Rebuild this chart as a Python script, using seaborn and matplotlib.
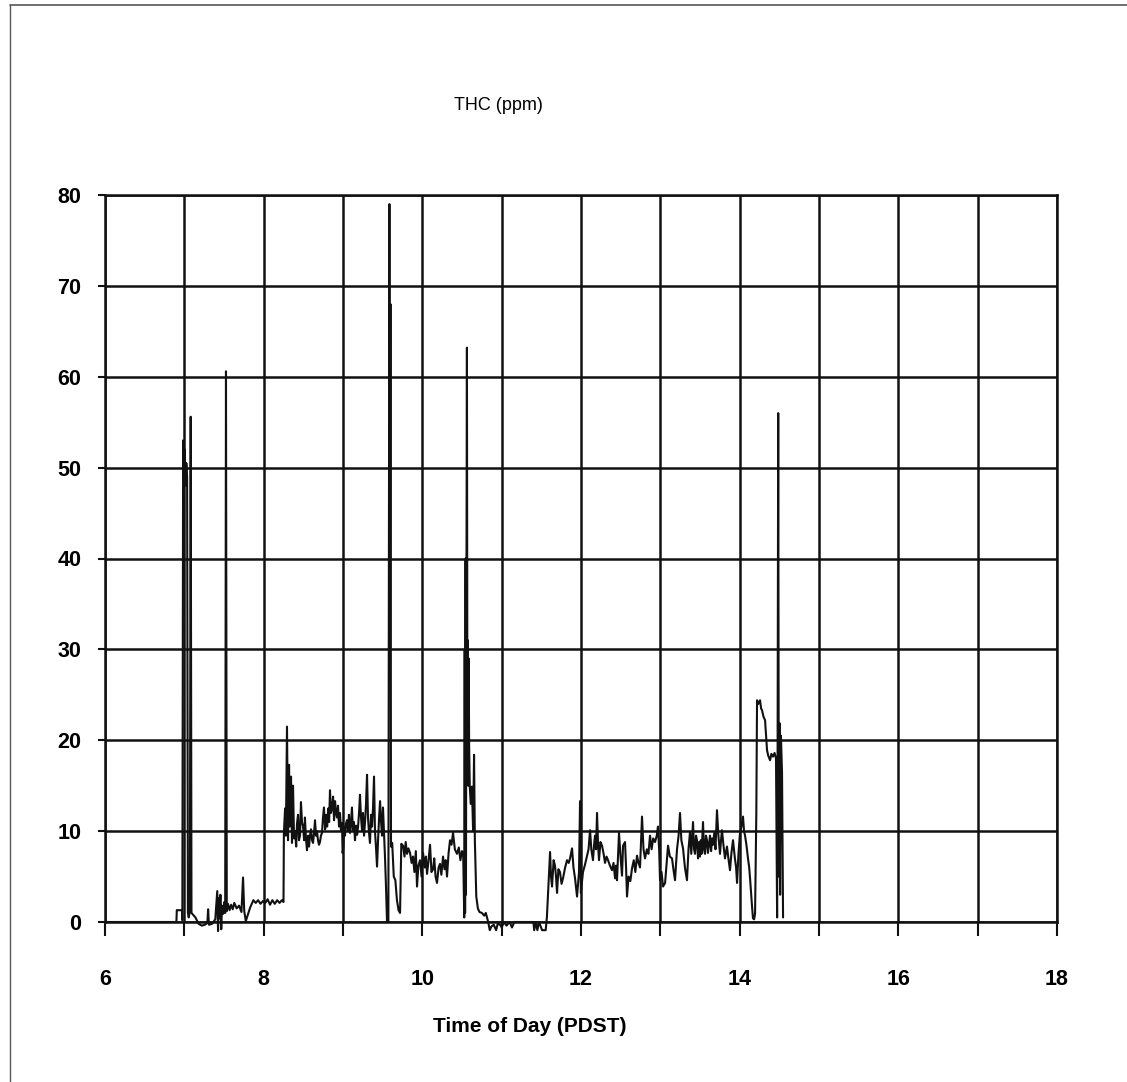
import matplotlib
matplotlib.use("Agg")
import matplotlib.pyplot as plt
from matplotlib.lines import Line2D
import numpy as np
import pandas as pd
import seaborn as sns

# THC readings (ppm) against time of day (decimal hours, PDST)
early_morning = [
    (6.00, 0), (6.90, 0), (6.905, 1.3), (6.97, 1.3), (6.975, 0.2),
    (6.985, 53), (6.995, 48.5), (7.005, 52), (7.015, 48), (7.025, 50.5),
    (7.035, 49), (7.045, 1.0), (7.055, 0.5), (7.07, 1.2), (7.08, 55.6),
    (7.09, 1.0), (7.11, 0.8), (7.14, 0.5), (7.18, -0.2), (7.22, -0.4),
    (7.26, -0.3), (7.29, -0.1), (7.30, 1.4), (7.31, -0.3), (7.35, -0.2),
    (7.39, 0.3), (7.415, 3.4), (7.425, -1.0), (7.435, 2.6), (7.445, 0.4),
    (7.455, 3.0), (7.465, -0.8), (7.475, 1.8), (7.49, 0.9), (7.505, 2.2),
    (7.515, 1.0), (7.525, 60.6), (7.535, 1.2), (7.55, 2.0), (7.57, 1.3),
    (7.59, 1.9), (7.61, 1.4), (7.63, 2.1), (7.66, 1.5), (7.69, 1.8),
    (7.72, 1.1), (7.74, 4.9), (7.755, 1.2), (7.775, 0.1), (7.80, 0.8),
    (7.83, 1.6), (7.87, 2.4), (7.90, 2.1), (7.93, 2.4), (7.96, 2.0),
    (7.99, 2.3), (8.02, 2.1), (8.05, 2.5), (8.08, 1.9), (8.11, 2.4),
    (8.14, 2.0), (8.17, 2.4), (8.20, 2.1), (8.23, 2.4), (8.25, 2.2),
]

mid_morning = [
    (8.255, 9.8), (8.27, 12.5), (8.28, 9.5), (8.294, 21.5), (8.307, 9.0),
    (8.32, 17.3), (8.33, 10.5), (8.345, 16.0), (8.357, 8.7), (8.37, 15.0),
    (8.383, 9.2), (8.395, 10.0), (8.41, 8.3), (8.42, 10.8), (8.433, 11.8),
    (8.445, 9.0), (8.458, 9.5), (8.47, 13.2), (8.483, 11.0), (8.496, 10.5),
    (8.51, 9.0), (8.52, 11.5), (8.533, 9.2), (8.546, 7.9), (8.56, 9.5),
    (8.572, 8.3), (8.584, 9.5), (8.597, 10.2), (8.61, 9.0), (8.622, 8.7),
    (8.635, 9.8), (8.647, 11.2), (8.66, 9.5), (8.672, 10.0), (8.685, 9.0),
    (8.697, 8.5), (8.71, 8.8), (8.722, 9.5), (8.735, 9.8), (8.748, 11.5),
    (8.76, 12.6), (8.775, 10.2), (8.788, 11.8), (8.80, 10.5), (8.815, 12.5),
    (8.825, 11.0), (8.836, 14.5), (8.848, 12.0), (8.861, 12.5), (8.875, 13.8),
    (8.887, 11.2), (8.90, 13.3), (8.912, 12.0), (8.924, 11.5), (8.937, 12.8),
    (8.95, 10.5), (8.962, 12.0), (8.975, 10.0), (8.987, 10.9), (8.995, 7.6),
    (9.005, 8.2), (9.015, 10.5), (9.025, 9.5), (9.037, 10.8), (9.05, 11.2),
    (9.063, 10.0), (9.075, 11.8), (9.088, 9.8), (9.10, 10.8), (9.113, 12.6),
    (9.125, 10.0), (9.138, 11.0), (9.151, 9.0), (9.165, 10.6), (9.178, 9.6),
    (9.19, 10.5), (9.202, 12.0), (9.214, 14.0), (9.227, 11.5), (9.24, 10.1),
    (9.252, 12.0), (9.265, 9.5), (9.278, 11.0), (9.29, 13.0), (9.303, 16.2),
    (9.315, 11.5), (9.328, 9.8), (9.34, 8.7), (9.353, 11.8), (9.366, 10.5),
    (9.378, 12.5), (9.391, 16.0), (9.403, 10.0), (9.416, 8.2), (9.429, 6.1),
    (9.442, 9.0), (9.455, 11.5), (9.467, 13.3), (9.48, 11.0), (9.492, 9.5),
    (9.504, 12.6), (9.517, 9.8), (9.53, 7.0), (9.542, 3.9), (9.555, 0.0),
]

late_morning = [
    (9.572, 0.0), (9.585, 79.0), (9.592, 27.0), (9.598, 68.0), (9.605, 8.3),
    (9.62, 8.7), (9.64, 5.0), (9.66, 4.6), (9.68, 2.4), (9.70, 1.3),
    (9.719, 1.0), (9.735, 8.6), (9.757, 8.4), (9.775, 7.2), (9.79, 8.8),
    (9.807, 7.5), (9.825, 8.1), (9.845, 7.6), (9.865, 6.5), (9.883, 7.2),
    (9.90, 5.5), (9.918, 7.8), (9.933, 3.9), (9.95, 6.2), (9.971, 6.8),
    (9.99, 5.0), (10.009, 7.6), (10.03, 6.0), (10.045, 7.2), (10.059, 5.3),
    (10.075, 6.5), (10.097, 8.5), (10.115, 5.5), (10.135, 5.8), (10.15, 7.0),
    (10.167, 5.0), (10.185, 4.3), (10.205, 6.0), (10.223, 6.4), (10.24, 5.2),
    (10.261, 7.2), (10.28, 5.8), (10.295, 6.8), (10.311, 5.0), (10.33, 7.5),
    (10.349, 9.0), (10.368, 8.5), (10.387, 9.8), (10.41, 8.0), (10.437, 7.5),
    (10.46, 8.2), (10.48, 6.8), (10.50, 7.8), (10.515, 7.5),
]

burst = [
    (10.528, 0.5), (10.534, 30.0), (10.539, 1.0), (10.545, 40.0), (10.55, 3.0),
    (10.555, 33.0), (10.562, 63.2), (10.568, 22.0), (10.573, 31.0),
    (10.578, 15.0), (10.584, 29.0), (10.59, 19.5), (10.598, 14.9),
    (10.61, 13.0), (10.625, 14.9), (10.64, 10.0), (10.652, 18.4),
    (10.662, 9.0), (10.68, 2.8), (10.70, 1.5), (10.72, 1.1), (10.75, 1.0),
    (10.78, 0.7), (10.80, 1.0), (10.83, 0.0), (10.85, -0.9), (10.87, -0.5),
    (10.90, -0.3), (10.93, -0.9), (10.95, -0.2), (10.98, -0.3), (11.00, -0.6),
    (11.03, 0.0), (11.06, -0.4), (11.10, 0.0), (11.13, -0.6), (11.16, 0.0),
    (11.40, 0.0), (11.41, -0.9), (11.43, 0.0), (11.45, -0.9), (11.47, 0.0),
    (11.51, -0.9), (11.555, -0.9), (11.57, 0.5),
]

midday = [
    (11.584, 3.0), (11.61, 7.7), (11.622, 5.0), (11.635, 3.9), (11.655, 6.8),
    (11.672, 6.2), (11.685, 5.0), (11.698, 3.2), (11.715, 5.8), (11.735, 5.5),
    (11.755, 4.2), (11.773, 4.8), (11.80, 6.0), (11.824, 6.8), (11.845, 6.5),
    (11.862, 7.0), (11.887, 8.1), (11.905, 6.0), (11.925, 4.8), (11.95, 2.8),
    (11.975, 5.5), (11.988, 13.3), (11.998, 3.2), (12.025, 5.5), (12.05, 6.3),
    (12.076, 7.3), (12.095, 8.0), (12.114, 10.1), (12.13, 8.0), (12.151, 6.8),
    (12.165, 8.5), (12.177, 9.5), (12.19, 8.0), (12.202, 12.0), (12.215, 8.5),
    (12.227, 6.8), (12.245, 8.8), (12.265, 8.4), (12.285, 7.5), (12.303, 6.5),
    (12.322, 7.2), (12.341, 6.8), (12.365, 6.2), (12.391, 5.7), (12.41, 6.5),
    (12.429, 4.8), (12.442, 6.2), (12.454, 4.6), (12.479, 9.8), (12.50, 7.0),
    (12.517, 5.1), (12.53, 8.4), (12.555, 8.8), (12.568, 6.0), (12.58, 2.8),
    (12.60, 5.0), (12.622, 4.5), (12.643, 5.9), (12.665, 6.8), (12.685, 5.5),
    (12.706, 7.3), (12.725, 6.5), (12.744, 6.0), (12.769, 11.6), (12.788, 8.0),
    (12.807, 7.0), (12.83, 8.0), (12.85, 7.5), (12.87, 9.5), (12.89, 8.0),
    (12.91, 9.2), (12.933, 8.8), (12.955, 9.5), (12.97, 10.5), (12.985, 8.0),
    (12.996, 4.6), (13.015, 5.5), (13.034, 3.9), (13.06, 4.3), (13.08, 6.5),
    (13.097, 8.4), (13.12, 7.2), (13.147, 7.0), (13.165, 5.8), (13.185, 4.6),
    (13.21, 8.0), (13.23, 9.5), (13.248, 12.0), (13.265, 9.0), (13.286, 8.1),
    (13.31, 6.0), (13.336, 4.6), (13.355, 8.0), (13.374, 9.9), (13.39, 7.5),
    (13.412, 11.0), (13.425, 8.0), (13.437, 7.5), (13.45, 9.5), (13.462, 9.0),
    (13.475, 7.0), (13.488, 8.8), (13.50, 7.2), (13.51, 9.0), (13.52, 7.5),
    (13.538, 11.0), (13.55, 8.0), (13.563, 7.5), (13.575, 9.5), (13.588, 9.0),
    (13.60, 7.6), (13.613, 8.5), (13.626, 9.5), (13.64, 7.8), (13.652, 9.2),
    (13.664, 8.5), (13.68, 9.8), (13.695, 8.0), (13.714, 12.3), (13.732, 9.5),
    (13.752, 7.5), (13.765, 9.0), (13.777, 10.1), (13.795, 8.5), (13.815, 7.0),
    (13.84, 8.3), (13.858, 7.0), (13.878, 5.7), (13.895, 7.5), (13.916, 9.0),
    (13.94, 7.0), (13.955, 6.0), (13.967, 4.3), (13.985, 7.5), (14.004, 9.8),
    (14.022, 10.5), (14.042, 11.6), (14.055, 10.0), (14.068, 9.5), (14.085, 8.5),
    (14.105, 7.0), (14.12, 6.0), (14.131, 4.8), (14.145, 3.0), (14.156, 1.7),
    (14.168, 0.4), (14.182, 0.3), (14.194, 0.9), (14.21, 12.0), (14.219, 24.4),
    (14.235, 24.0), (14.257, 24.4), (14.27, 23.5), (14.282, 23.3), (14.30, 22.6),
    (14.32, 22.2), (14.333, 20.5), (14.345, 18.9), (14.36, 18.3), (14.383, 17.8),
    (14.40, 18.5), (14.42, 18.2), (14.44, 18.6), (14.458, 18.0), (14.465, 10.0),
    (14.472, 0.5), (14.478, 18.0), (14.486, 56.0), (14.494, 5.0), (14.502, 21.9),
    (14.51, 3.0), (14.52, 20.5), (14.534, 16.4), (14.547, 0.5),
]

segments = [early_morning, mid_morning, late_morning, burst, midday]
hours = [t for seg in segments for t, _ in seg]
thc_ppm = [v for seg in segments for _, v in seg]
df = pd.DataFrame({"hour": hours, "thc": thc_ppm})

x_ticks = [6, 8, 10, 12, 14, 16, 18]
x_minor = [7, 9, 11, 13, 15, 17]
y_ticks = [0, 10, 20, 30, 40, 50, 60, 70, 80]

sns.set_style("white")
plt.rcParams["font.family"] = ["Liberation Sans", "DejaVu Sans"]

fig = plt.figure(figsize=(11.27, 10.82), dpi=100)
ax = fig.add_axes([105 / 1127, 160 / 1082, 952 / 1127, 727 / 1082])

sns.lineplot(data=df, x="hour", y="thc", ax=ax, color="#111111",
             linewidth=1.5, estimator=None, sort=False, clip_on=False)

ax.set_xlim(6, 18)
ax.set_ylim(0, 80)
ax.set_xticks(x_ticks)
ax.set_xticks(x_minor, minor=True)
ax.set_yticks(y_ticks)
ax.grid(True, which="both", color="#111111", linewidth=1.8)
ax.set_axisbelow(True)
for side in ax.spines.values():
    side.set_color("#111111")
    side.set_linewidth(1.8)

ax.tick_params(axis="x", which="both", bottom=True, direction="out",
               length=10, width=1.5, color="#111111", pad=24,
               labelsize=15.5, labelcolor="black")
ax.tick_params(axis="y", which="major", left=True, direction="out",
               length=5, width=1.5, color="#111111", pad=12,
               labelsize=15.5, labelcolor="black")
for lab in ax.get_xticklabels() + ax.get_yticklabels():
    lab.set_fontweight("bold")
ax.set_xlabel("")
ax.set_ylabel("")

fig.text(498 / 1127, 1 - 105 / 1082, "THC (ppm)", ha="center", va="center",
         fontsize=13, color="black")
fig.text(530 / 1127, 1 - 1027 / 1082, "Time of Day (PDST)", ha="center",
         va="center", fontsize=15, fontweight="bold", color="black")

# page frame
fig.add_artist(Line2D([10 / 1127, 10 / 1127], [0, 1 - 5 / 1082],
                      transform=fig.transFigure, color="#555555", lw=1.0))
fig.add_artist(Line2D([10 / 1127, 1], [1 - 5 / 1082, 1 - 5 / 1082],
                      transform=fig.transFigure, color="#555555", lw=1.2))

fig.savefig("out.png", dpi=100, facecolor="white")
